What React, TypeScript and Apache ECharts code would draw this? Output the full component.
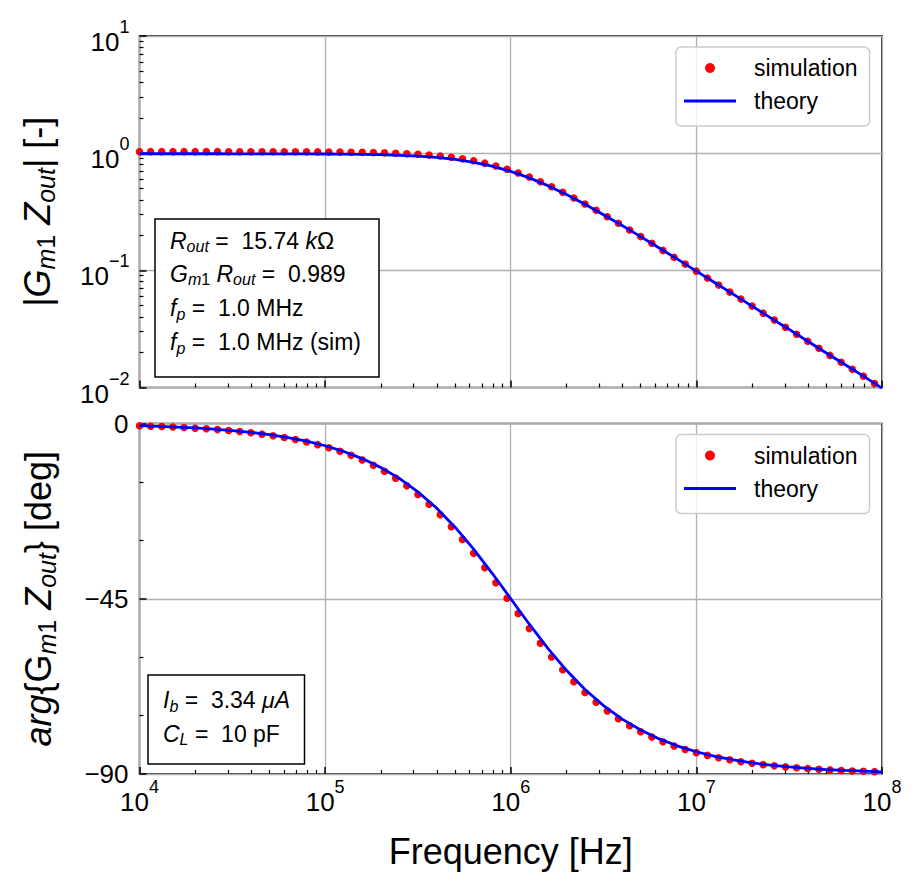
import React, { useEffect, useRef } from 'react';
import * as echarts from 'echarts';

const FONT = "'Liberation Sans', Arial, Helvetica, sans-serif";

// Simulation sample frequencies [Hz]
const simFreq = [
  1.000e4, 1.148e4, 1.318e4, 1.514e4, 1.738e4, 1.995e4, 2.291e4, 2.630e4, 3.020e4, 3.467e4, 3.981e4, 4.571e4, 5.248e4, 6.026e4, 6.918e4, 7.943e4, 9.120e4,
  1.047e5, 1.202e5, 1.380e5, 1.585e5, 1.820e5, 2.089e5, 2.399e5, 2.754e5, 3.162e5, 3.631e5, 4.169e5, 4.786e5, 5.495e5, 6.310e5, 7.244e5, 8.318e5, 9.550e5,
  1.096e6, 1.259e6, 1.445e6, 1.660e6, 1.905e6, 2.188e6, 2.512e6, 2.884e6, 3.311e6, 3.802e6, 4.365e6, 5.012e6, 5.754e6, 6.607e6, 7.586e6, 8.710e6,
  1.000e7, 1.148e7, 1.318e7, 1.514e7, 1.738e7, 1.995e7, 2.291e7, 2.630e7, 3.020e7, 3.467e7, 3.981e7, 4.571e7, 5.248e7, 6.026e7, 6.918e7, 7.943e7, 9.120e7,
];
// |Gm1 Zout| simulation
const simMag = [
  1.030, 1.030, 1.030, 1.030, 1.030, 1.030, 1.030, 1.030, 1.029, 1.029, 1.029, 1.029, 1.028, 1.028, 1.027, 1.026, 1.025,
  1.024, 1.022, 1.019, 1.016, 1.012, 1.006, 0.999, 0.990, 0.978, 0.963, 0.945, 0.922, 0.894, 0.861, 0.822, 0.778, 0.730,
  0.678, 0.625, 0.570, 0.516, 0.463, 0.414, 0.368, 0.325, 0.287, 0.252, 0.221, 0.194, 0.170, 0.148, 0.129, 0.113,
  0.0984, 0.0858, 0.0748, 0.0652, 0.0568, 0.0495, 0.0431, 0.0376, 0.0327, 0.0285, 0.0248, 0.0216, 0.0188, 0.0164, 0.0143, 0.0125, 0.0108,
];
// arg{Gm1 Zout} simulation [deg]
const simPhase = [
  -0.60, -0.69, -0.79, -0.90, -1.04, -1.19, -1.37, -1.57, -1.80, -2.07, -2.37, -2.73, -3.13, -3.59, -4.12, -4.73, -5.43,
  -6.23, -7.14, -8.18, -9.38, -10.73, -12.28, -14.03, -16.00, -18.24, -20.72, -23.46, -26.49, -29.78, -33.32, -37.01, -40.90, -44.85,
  -48.80, -52.67, -56.41, -59.94, -63.25, -66.31, -69.09, -71.59, -73.83, -75.83, -77.60, -79.16, -80.53, -81.73, -82.79, -83.71,
  -84.52, -85.22, -85.84, -86.37, -86.84, -87.25, -87.60, -87.91, -88.18, -88.41, -88.62, -88.80, -88.95, -89.09, -89.21, -89.31, -89.40,
];

// Theory curve
const theoryFreq = [
  1.000e4, 1.259e4, 1.585e4, 1.995e4, 2.512e4, 3.162e4, 3.981e4, 5.012e4, 6.310e4, 7.943e4,
  1.000e5, 1.259e5, 1.585e5, 1.995e5, 2.512e5, 3.162e5, 3.981e5, 5.012e5, 6.310e5, 7.943e5,
  1.000e6, 1.259e6, 1.585e6, 1.995e6, 2.512e6, 3.162e6, 3.981e6, 5.012e6, 6.310e6, 7.943e6,
  1.000e7, 1.259e7, 1.585e7, 1.995e7, 2.512e7, 3.162e7, 3.981e7, 5.012e7, 6.310e7, 7.943e7,
  1.000e8,
];
const theoryMag = [
  0.989, 0.989, 0.989, 0.989, 0.989, 0.988, 0.988, 0.988, 0.987, 0.986,
  0.984, 0.981, 0.977, 0.970, 0.959, 0.943, 0.919, 0.884, 0.836, 0.774,
  0.699, 0.615, 0.528, 0.443, 0.366, 0.298, 0.241, 0.194, 0.155, 0.124,
  0.0984, 0.0783, 0.0623, 0.0495, 0.0393, 0.0313, 0.0248, 0.0197, 0.0157, 0.0125,
  0.00989,
];
const theoryPhase = [
  -0.57, -0.72, -0.91, -1.14, -1.44, -1.81, -2.28, -2.87, -3.61, -4.54,
  -5.71, -7.18, -9.01, -11.28, -14.10, -17.55, -21.70, -26.63, -32.26, -38.46,
  -45.00, -51.54, -57.74, -63.37, -68.30, -72.45, -75.90, -78.72, -80.99, -82.82,
  -84.29, -85.46, -86.39, -87.13, -87.72, -88.19, -88.56, -88.86, -89.09, -89.28,
  -89.43,
];

const legendNames = ['simulation', 'theory'];
const phaseTicks = { min: -90, max: 0, step: 45 };
const magRange = { min: 0.01, max: 10 };
const freqRange = { min: 1e4, max: 1e8 };

const NB = '\u00a0';
const magNotes = [
  `{i|R}{s|out}{n|${NB}=${NB}${NB}15.74${NB}}{i|k}{n|Ω}`,
  `{i|G}{s|m}{su|1}{n|${NB}}{i|R}{s|out}{n|${NB}=${NB}${NB}0.989}`,
  `{i|f}{s|p}{n|${NB}=${NB}${NB}1.0 MHz}`,
  `{i|f}{s|p}{n|${NB}=${NB}${NB}1.0 MHz (sim)}`,
];
const phaseNotes = [
  `{i|I}{s|b}{n|${NB}=${NB}${NB}3.34${NB}}{i|μA}`,
  `{i|C}{s|L}{n|${NB}=${NB}${NB}10 pF}`,
];

const tickRich = {
  b: { fontSize: 26, fontFamily: FONT, color: '#000', lineHeight: 26, padding: [12, 0, 0, 0] },
  e: { fontSize: 18, fontFamily: FONT, color: '#000', lineHeight: 18, padding: [0, 0, 18, 0] },
};

const logLabel = (v: number) => {
  const e = Math.round(Math.log10(v));
  const s = e < 0 ? '\u2212' + -e : String(e);
  return `{b|10}{e|${s}}`;
};

const nameRich = {
  i: { fontSize: 36, fontFamily: FONT, fontStyle: 'italic', color: '#000', lineHeight: 36 },
  u: { fontSize: 36, fontFamily: FONT, color: '#000', lineHeight: 36 },
  s: { fontSize: 25, fontFamily: FONT, fontStyle: 'italic', color: '#000', lineHeight: 25, padding: [16, 0, 0, 0] },
  su: { fontSize: 25, fontFamily: FONT, color: '#000', lineHeight: 25, padding: [16, 0, 0, 0] },
};

const boxRich = {
  n: { fontSize: 23, fontFamily: FONT, fill: '#000', lineHeight: 23 },
  i: { fontSize: 23, fontFamily: FONT, fontStyle: 'italic', fill: '#000', lineHeight: 23 },
  s: { fontSize: 16, fontFamily: FONT, fontStyle: 'italic', fill: '#000', lineHeight: 16, padding: [12, 0, 0, 0] },
  su: { fontSize: 16, fontFamily: FONT, fill: '#000', lineHeight: 16, padding: [12, 0, 0, 0] },
};

const GRID_LEFT = 139.5;
const GRID_W = 742.5;
const TOP1 = 36;
const H1 = 351.5;
const TOP2 = 423.5;
const H2 = 350.5;

const tickStyle = { show: true, inside: true, length: 7, lineStyle: { color: '#000', width: 1.5 } };
const minorStyle = (n: number) => ({ show: true, splitNumber: n, length: 4, lineStyle: { color: '#000', width: 1.2 } });
const splitStyle = { show: true, lineStyle: { color: '#b0b0b0', width: 1.3 } };
const noLine = { show: false, onZero: false };

function buildOption() {
  const magSim = simFreq.map((f, i) => [f, simMag[i]]);
  const magTh = theoryFreq.map((f, i) => [f, theoryMag[i]]);
  const phSim = simFreq.map((f, i) => [f, simPhase[i]]);
  const phTh = theoryFreq.map((f, i) => [f, theoryPhase[i]]);

  const legendCommon = {
    data: [
      { name: legendNames[0], icon: 'circle' },
      { name: legendNames[1], icon: 'path://M0,0H52V2.8H0Z' },
    ],
    orient: 'vertical',
    left: 676,
    itemWidth: 52,
    itemHeight: 10,
    itemGap: 9,
    padding: [9, 12, 13, 8],
    backgroundColor: 'rgba(255,255,255,0.8)',
    borderColor: '#cccccc',
    borderWidth: 1.5,
    borderRadius: 5,
    selectedMode: false,
    textStyle: { fontSize: 23, fontFamily: FONT, color: '#000', lineHeight: 24, padding: [0, 0, 0, 13] },
    z: 20,
  };

  const graphics: any[] = [
    { type: 'rect', z: 100, shape: { x: 155, y: 219, width: 224, height: 158 }, style: { fill: '#fff', stroke: '#000', lineWidth: 1.5 } },
    { type: 'rect', z: 100, shape: { x: 148, y: 675, width: 156.5, height: 89 }, style: { fill: '#fff', stroke: '#000', lineWidth: 1.5 } },
  ];
  const magY = [240.5, 273.5, 308, 342];
  magNotes.forEach((t, i) => {
    graphics.push({ type: 'text', z: 101, x: 170, y: magY[i], style: { text: t, rich: boxRich, align: 'left', verticalAlign: 'middle', fontSize: 23, fontFamily: FONT, fill: '#000' } });
  });
  const phY = [700, 733.5];
  phaseNotes.forEach((t, i) => {
    graphics.push({ type: 'text', z: 101, x: 163, y: phY[i], style: { text: t, rich: boxRich, align: 'left', verticalAlign: 'middle', fontSize: 23, fontFamily: FONT, fill: '#000' } });
  });

  const dotStyle = { color: '#ff0000', opacity: 1 };
  const lineStyle = { color: '#0000ff', width: 2.8 };

  return {
    animation: false,
    backgroundColor: '#fff',
    grid: [
      { left: GRID_LEFT, top: TOP1, width: GRID_W, height: H1, show: true, borderColor: '#000', borderWidth: 1.5, backgroundColor: 'transparent' },
      { left: GRID_LEFT, top: TOP2, width: GRID_W, height: H2, show: true, borderColor: '#000', borderWidth: 1.5, backgroundColor: 'transparent' },
    ],
    legend: [
      { ...legendCommon, top: 47 },
      { ...legendCommon, top: 434.5 },
    ],
    xAxis: [
      {
        type: 'log', logBase: 10, gridIndex: 0, min: freqRange.min, max: freqRange.max, position: 'bottom',
        axisLine: noLine, axisTick: tickStyle, minorTick: minorStyle(9),
        axisLabel: { show: false }, splitLine: splitStyle,
      },
      {
        type: 'log', logBase: 10, gridIndex: 1, min: freqRange.min, max: freqRange.max, position: 'bottom',
        axisLine: noLine, axisTick: tickStyle, minorTick: minorStyle(9),
        axisLabel: { show: true, margin: 8.5, formatter: logLabel, rich: tickRich, showMinLabel: true, showMaxLabel: true },
        splitLine: splitStyle,
        name: 'Frequency [Hz]', nameLocation: 'middle', nameGap: 59,
        nameTextStyle: { fontSize: 36, fontFamily: FONT, color: '#000', lineHeight: 36 },
      },
    ],
    yAxis: [
      {
        type: 'log', logBase: 10, gridIndex: 0, min: magRange.min, max: magRange.max, position: 'left',
        axisLine: noLine, axisTick: tickStyle, minorTick: minorStyle(9),
        axisLabel: { show: true, margin: 10, formatter: logLabel, rich: tickRich, showMinLabel: true, showMaxLabel: true },
        splitLine: splitStyle,
        name: `|{i|G}{s|m}{su|1}${NB}{i|Z}{s|out}| [-]`, nameLocation: 'middle', nameGap: 84,
        nameTextStyle: { fontSize: 36, fontFamily: FONT, color: '#000', lineHeight: 36, rich: nameRich },
      },
      {
        type: 'value', gridIndex: 1, min: phaseTicks.min, max: phaseTicks.max, interval: phaseTicks.step, position: 'left',
        axisLine: noLine, axisTick: tickStyle, minorTick: minorStyle(3),
        axisLabel: { show: true, margin: 11, fontSize: 26, fontFamily: FONT, color: '#000', formatter: (v: number) => String(v).replace('-', '\u2212') },
        splitLine: splitStyle,
        name: `{i|arg}{G{s|m}{su|1}${NB}{i|Z}{s|out}} [deg]`, nameLocation: 'middle', nameGap: 83,
        nameTextStyle: { fontSize: 36, fontFamily: FONT, color: '#000', lineHeight: 36, rich: nameRich },
      },
    ],
    series: [
      { name: 'simulation', type: 'scatter', xAxisIndex: 0, yAxisIndex: 0, data: magSim, symbolSize: 7.5, itemStyle: dotStyle, z: 3 },
      { name: 'theory', type: 'line', xAxisIndex: 0, yAxisIndex: 0, data: magTh, symbol: 'none', showSymbol: false, lineStyle, itemStyle: { color: '#0000ff' }, z: 4 },
      { name: 'simulation', type: 'scatter', xAxisIndex: 1, yAxisIndex: 1, data: phSim, symbolSize: 7.5, itemStyle: dotStyle, z: 3 },
      { name: 'theory', type: 'line', xAxisIndex: 1, yAxisIndex: 1, data: phTh, symbol: 'none', showSymbol: false, lineStyle, itemStyle: { color: '#0000ff' }, z: 4 },
    ],
    graphic: graphics,
  };
}

export default function App() {
  const ref = useRef<HTMLDivElement>(null);
  useEffect(() => {
    if (!ref.current) return;
    const chart = echarts.init(ref.current, null, { renderer: 'svg' });
    chart.setOption(buildOption() as any);
    return () => chart.dispose();
  }, []);
  return (
    <div
      ref={ref}
      style={{ position: 'absolute', left: 0, top: 0, width: 924, height: 888, background: '#fff' }}
    />
  );
}
